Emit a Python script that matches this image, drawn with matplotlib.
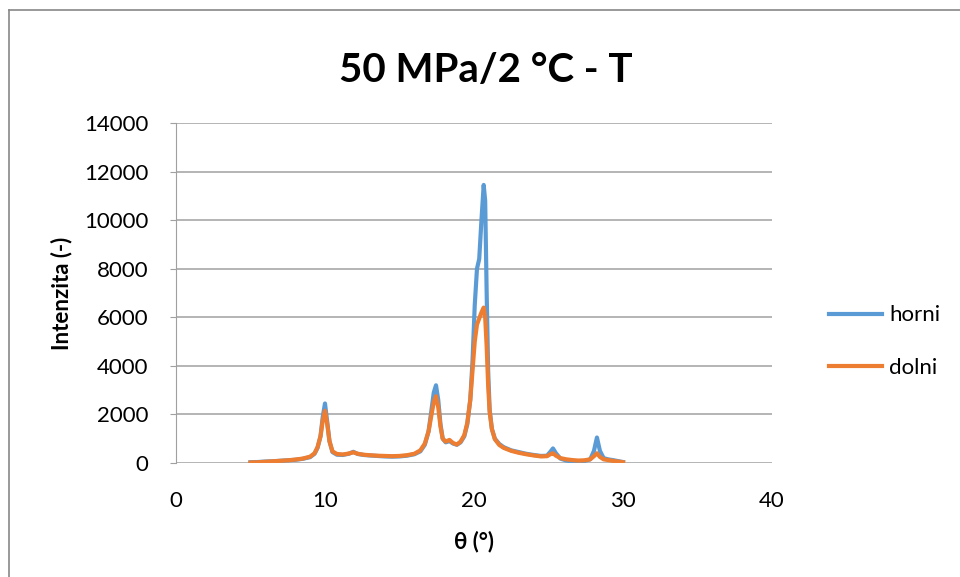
import matplotlib.pyplot as plt
from matplotlib.lines import Line2D

plt.rcParams["font.family"] = ["Lato", "DejaVu Sans"]

# data
theta = [5.0, 5.5, 6.0, 6.5, 7.0, 7.5, 8.0, 8.5, 9.0, 9.3, 9.5, 9.7, 9.85, 10.0,
         10.15, 10.3, 10.5, 10.8, 11.2, 11.6, 11.9, 12.2, 12.6, 13.0, 13.5, 14.0,
         14.5, 15.0, 15.5, 16.0, 16.4, 16.7, 16.95, 17.15, 17.3, 17.45, 17.6,
         17.75, 17.9, 18.1, 18.35, 18.6, 18.85, 19.1, 19.35, 19.55, 19.75, 19.9,
         20.05, 20.2, 20.35, 20.5, 20.65, 20.75, 20.85, 20.95, 21.05, 21.2, 21.4,
         21.7, 22.0, 22.5, 23.0, 23.5, 24.0, 24.5, 24.9, 25.15, 25.3, 25.5, 25.8,
         26.2, 26.6, 27.0, 27.4, 27.8, 28.05, 28.25, 28.45, 28.7, 29.0, 29.4,
         29.8, 30.0]

horni = [30, 40, 60, 70, 90, 110, 130, 170, 240, 380, 620, 1100, 1900, 2450,
         1700, 900, 450, 340, 330, 380, 460, 370, 330, 310, 290, 270,
         260, 270, 300, 360, 480, 750, 1300, 2200, 2900, 3200, 2600,
         1600, 1000, 850, 900, 800, 750, 850, 1100, 1600, 2600, 4200,
         6500, 8000, 8400, 10000, 11450, 10800, 7000, 3800, 2200, 1400, 1000,
         780, 650, 520, 450, 380, 330, 290, 300, 480, 600, 400, 180,
         100, 60, 50, 80, 150, 500, 1050, 500, 200, 150, 110,
         60, 40]

dolni = [20, 30, 50, 70, 90, 110, 140, 180, 260, 400, 650, 1100, 1750, 2150,
         1600, 900, 480, 370, 350, 390, 440, 380, 340, 320, 300, 290,
         280, 290, 320, 380, 520, 800, 1300, 2000, 2500, 2750, 2300,
         1500, 1000, 880, 950, 820, 760, 880, 1150, 1650, 2600, 3800,
         5000, 5700, 5950, 6200, 6400, 6000, 4800, 3200, 2100, 1400, 980,
         740, 620, 500, 420, 360, 310, 270, 280, 370, 400, 300, 200,
         150, 120, 100, 110, 150, 280, 400, 250, 150, 120, 80,
         50, 30]

fig = plt.figure(figsize=(9.6, 5.77), dpi=100)
ax = fig.add_axes([0.1833, 0.1976, 0.6209, 0.5892])

ax.plot(theta, horni, color="#5B9BD5", lw=3, label="horni")
ax.plot(theta, dolni, color="#ED7D31", lw=3, label="dolni")

ax.set_xlim(0, 40)
ax.set_ylim(0, 14000)
ax.set_xticks([0, 10, 20, 30, 40])
ax.set_yticks(range(0, 14001, 2000))
ax.grid(axis="y", color="#a0a0a0", lw=1.1)
ax.set_axisbelow(True)
for s in ["top", "right", "bottom"]:
    ax.spines[s].set_visible(False)
ax.spines["left"].set_color("#a0a0a0")
ax.tick_params(axis="y", length=4, color="#a0a0a0", labelsize=16, pad=16)
ax.tick_params(axis="x", length=0, labelsize=16, pad=20)

ax.set_xlabel("θ (°)", fontsize=16, fontweight="bold", labelpad=14)
ax.set_ylabel("Intenzita (-)", fontsize=16, fontweight="bold", labelpad=8)
fig.text(0.506, 0.877, "50 MPa/2 °C - T", fontsize=29, fontweight="bold",
         ha="center", va="center")

ax.legend(loc="upper left", bbox_to_anchor=(1.077, 0.496), frameon=False,
          fontsize=16, handlelength=2.4, labelspacing=1.45, handletextpad=0.3,
          borderpad=0)

# outer chart border (left and top visible)
fig.add_artist(Line2D([9 / 960, 9 / 960], [0, 1 - 10 / 577], color="#888888", lw=1.2))
fig.add_artist(Line2D([9 / 960, 1], [1 - 10 / 577, 1 - 10 / 577], color="#888888", lw=1.2))

fig.savefig("out.png", dpi=100)
